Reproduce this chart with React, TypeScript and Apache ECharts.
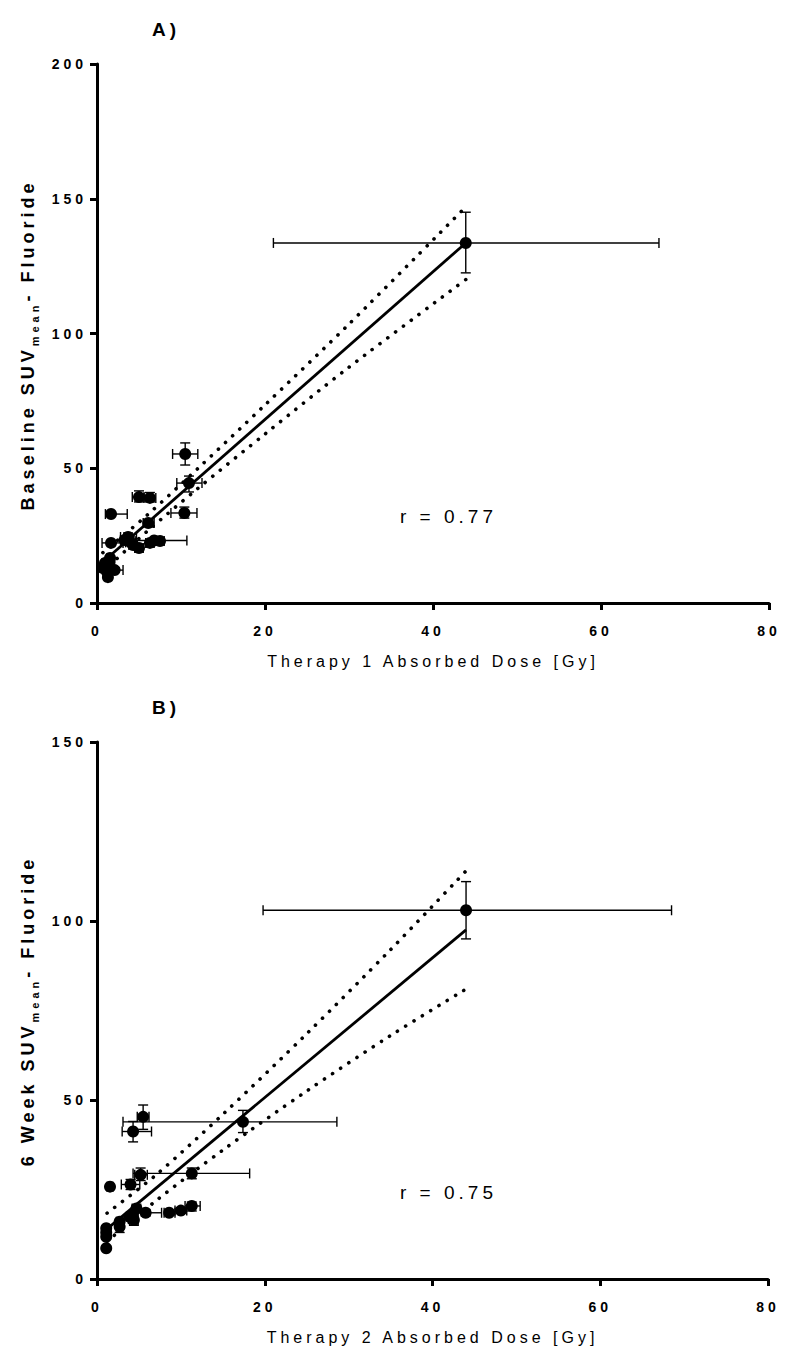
import React, { useEffect, useRef } from "react";
import * as echarts from "echarts";

// ---------- Panel A: Therapy 1 absorbed dose vs Baseline SUVmean ----------
const doseA = [43.9, 10.5, 10.95, 5.0, 6.3, 1.67, 10.4, 6.1, 1.67, 3.7, 3.3, 4.3, 5.0, 6.8, 7.5, 6.3, 1.55, 0.95, 0.7, 2.1, 1.3, 1.5, 1.2, 4.0];
const suvA = [133.6, 55.3, 44.5, 39.3, 39.0, 33.0, 33.4, 29.7, 22.3, 24.5, 23.4, 21.5, 20.4, 23.2, 23.0, 22.3, 16.7, 14.8, 13.0, 12.2, 9.6, 15.2, 11.5, 22.5];
const doseALo = [21.0, 9.0, 9.5, 4.2, 5.6, 1.0, 8.8, 5.5, 0.6, 2.8, 2.8, 3.8, 4.5, 3.5, 7.0, 5.8, 1.2, 0.6, 0.4, 1.0, 1.0, 1.2, 0.9, 3.4];
const doseAHi = [66.9, 12.0, 12.5, 5.6, 7.0, 3.6, 11.9, 6.8, 3.1, 4.7, 3.8, 4.8, 5.5, 10.7, 8.0, 6.8, 1.9, 1.3, 1.0, 3.1, 1.6, 1.8, 1.5, 4.6];
const suvALo = [122.5, 51.2, 41.2, 37.5, 37.5, 33.0, 31.5, 28.5, 22.3, 23.0, 22.4, 20.5, 19.0, 22.3, 22.0, 21.3, 16.0, 14.0, 12.3, 11.5, 9.0, 14.5, 11.0, 21.5];
const suvAHi = [145.0, 59.4, 47.1, 41.6, 41.0, 33.0, 35.6, 31.0, 22.3, 26.0, 24.4, 22.5, 21.8, 24.1, 24.0, 23.3, 17.4, 15.6, 13.7, 12.9, 10.2, 15.9, 12.0, 23.5];
const fitAX = [0.7, 43.9];
const fitAY = [15.2, 133.6];
const bandAX = [0.7, 6, 12, 20, 30, 43.9];
const bandAUpper = [18.7, 32.7, 49.9, 73.5, 103.5, 147];
const bandALower = [11.7, 26.7, 42.5, 62.7, 87.5, 120];

// ---------- Panel B: Therapy 2 absorbed dose vs 6 week SUVmean ----------
const doseB = [44.0, 17.4, 5.5, 4.3, 11.3, 5.2, 1.55, 4.0, 4.7, 5.8, 4.4, 2.7, 2.7, 8.6, 10.0, 11.3, 1.1, 1.1, 1.1, 3.9, 1.1];
const suvB = [103, 43.9, 45.3, 41.2, 29.5, 29.1, 25.8, 26.4, 19.7, 18.5, 16.5, 16.0, 14.6, 18.5, 19.1, 20.4, 14.2, 11.8, 8.6, 17.4, 13.0];
const doseBLo = [19.8, 3.1, 4.8, 3.0, 4.3, 4.5, 1.2, 2.9, 4.2, 4.7, 3.9, 2.3, 2.3, 8.0, 9.3, 10.5, 0.9, 0.9, 0.9, 3.5, 0.9];
const doseBHi = [68.5, 28.6, 6.2, 6.5, 18.2, 6.0, 1.9, 5.1, 5.2, 7.7, 4.9, 3.1, 3.1, 9.3, 10.7, 12.3, 1.3, 1.3, 1.3, 4.3, 1.3];
const suvBLo = [95, 40.9, 41.8, 38.3, 28.0, 27.5, 25.8, 25.0, 18.8, 17.6, 15.0, 15.3, 13.0, 17.8, 18.4, 19.0, 13.6, 11.2, 8.0, 16.8, 12.4];
const suvBHi = [111, 47.1, 48.6, 44.0, 31.0, 31.0, 25.8, 27.8, 20.6, 19.4, 18.0, 16.7, 16.0, 19.2, 19.8, 21.5, 14.8, 12.4, 9.2, 18.0, 13.6];
const fitBX = [1.1, 44.0];
const fitBY = [13.8, 97.5];
const bandBX = [1.2, 7, 15, 25, 35, 44];
const bandBUpper = [18.4, 29, 46, 68.5, 92, 114];
const bandBLower = [10.5, 21.8, 36, 52.5, 68, 81];

const xTicks = { min: 0, max: 80, interval: 20 };
const yTicksA = { min: 0, max: 200, interval: 50 };
const yTicksB = { min: 0, max: 150, interval: 50 };

const yTitleA = ["Baseline SUV", "mean", "- Fluoride"];
const yTitleB = ["6 Week SUV", "mean", "- Fluoride"];

const FONT_NAME = "Liberation Sans";
const FONT = "Liberation Sans, Arial, sans-serif";
const LS = 4; // letter spacing in px

function zip(...arrs: number[][]) {
  return arrs[0].map((_, i) => arrs.map((a) => a[i]));
}

let measureCtx: CanvasRenderingContext2D | null = null;
function textWidth(text: string, size: number, weight: string) {
  if (!measureCtx) measureCtx = document.createElement("canvas").getContext("2d");
  measureCtx!.font = `${weight} ${size}px "${FONT_NAME}"`;
  return measureCtx!.measureText(text).width + LS * text.length;
}

function rotatedTitle(parts: string[], cx: number, cy: number) {
  const mainSize = 18, subSize = 11;
  const w0 = textWidth(parts[0], mainSize, "bold");
  const w1 = textWidth(parts[1], subSize, "bold");
  const w2 = textWidth(parts[2], mainSize, "bold");
  const total = w0 + w1 + w2;
  const start = -total / 2;
  const mk = (t: string, x: number, y: number, size: number) => ({
    type: "text",
    x,
    y,
    style: { text: t, fontSize: size, fontWeight: "bold", fontFamily: FONT, fill: "#000", align: "left", verticalAlign: "middle" },
  });
  return {
    type: "group",
    x: cx,
    y: cy,
    rotation: Math.PI / 2,
    children: [
      mk(parts[0], start, 0, mainSize),
      mk(parts[1], start + w0, 7, subSize),
      mk(parts[2], start + w0 + w1, 0, mainSize),
    ],
  };
}

function errorRender(params: any, api: any) {
  const x = api.value(0), y = api.value(1);
  const xl = api.value(2), xh = api.value(3), yl = api.value(4), yh = api.value(5);
  const style = { stroke: "#000", lineWidth: 1.4, fill: "none" };
  const c = 5;
  const children: any[] = [];
  if (xh - xl > 0.05) {
    const pL = api.coord([xl, y]);
    const pR = api.coord([xh, y]);
    children.push({ type: "line", shape: { x1: pL[0], y1: pL[1], x2: pR[0], y2: pR[1] }, style });
    children.push({ type: "line", shape: { x1: pL[0], y1: pL[1] - c, x2: pL[0], y2: pL[1] + c }, style });
    children.push({ type: "line", shape: { x1: pR[0], y1: pR[1] - c, x2: pR[0], y2: pR[1] + c }, style });
  }
  if (yh - yl > 0.05) {
    const pB = api.coord([x, yl]);
    const pT = api.coord([x, yh]);
    children.push({ type: "line", shape: { x1: pB[0], y1: pB[1], x2: pT[0], y2: pT[1] }, style });
    children.push({ type: "line", shape: { x1: pB[0] - c, y1: pB[1], x2: pB[0] + c, y2: pB[1] }, style });
    children.push({ type: "line", shape: { x1: pT[0] - c, y1: pT[1], x2: pT[0] + c, y2: pT[1] }, style });
  }
  return { type: "group", children };
}

function xAxis(gridIndex: number, name: string) {
  return {
    type: "value",
    gridIndex,
    ...xTicks,
    name,
    nameLocation: "middle",
    nameGap: 50,
    nameTextStyle: { fontSize: 16, color: "#000", fontFamily: FONT },
    axisLine: { show: true, onZero: false, lineStyle: { color: "#000", width: 3 } },
    axisTick: { show: true, length: 7, lineStyle: { color: "#000", width: 3 } },
    axisLabel: { color: "#000", fontWeight: "bold", fontSize: 14, margin: 21, fontFamily: FONT },
    splitLine: { show: false },
  };
}

function yAxis(gridIndex: number, ticks: any) {
  return {
    type: "value",
    gridIndex,
    ...ticks,
    axisLine: { show: true, onZero: false, lineStyle: { color: "#000", width: 3 } },
    axisTick: { show: true, length: 7, lineStyle: { color: "#000", width: 3 } },
    axisLabel: { color: "#000", fontWeight: "bold", fontSize: 14, margin: 10, fontFamily: FONT },
    splitLine: { show: false },
  };
}

function panelSeries(
  idx: number,
  dose: number[], suv: number[], dLo: number[], dHi: number[], sLo: number[], sHi: number[],
  fx: number[], fy: number[], bx: number[], bu: number[], bl: number[]
) {
  const dotted = { color: "#000", width: 3.6, type: [0.1, 9.6], cap: "round" };
  return [
    { type: "line", xAxisIndex: idx, yAxisIndex: idx, data: zip(bx, bu), smooth: 0.3, symbol: "none", lineStyle: dotted, z: 2 },
    { type: "line", xAxisIndex: idx, yAxisIndex: idx, data: zip(bx, bl), smooth: 0.3, symbol: "none", lineStyle: dotted, z: 2 },
    { type: "line", xAxisIndex: idx, yAxisIndex: idx, data: zip(fx, fy), symbol: "none", lineStyle: { color: "#000", width: 2.8 }, z: 3 },
    {
      type: "custom",
      xAxisIndex: idx,
      yAxisIndex: idx,
      data: zip(dose, suv, dLo, dHi, sLo, sHi),
      encode: { x: 0, y: 1 },
      renderItem: errorRender,
      z: 4,
    },
    {
      type: "scatter",
      xAxisIndex: idx,
      yAxisIndex: idx,
      data: zip(dose, suv),
      symbol: "circle",
      symbolSize: 12,
      itemStyle: { color: "#000", opacity: 1 },
      z: 5,
    },
  ];
}

export default function App() {
  const ref = useRef<HTMLDivElement>(null);
  useEffect(() => {
    if (!ref.current) return;
    const chart = echarts.init(ref.current, null, { renderer: "svg" });
    chart.setOption({
      animation: false,
      backgroundColor: "#fff",
      textStyle: { fontFamily: FONT },
      grid: [
        { left: 97, right: 31, top: 64, height: 539 },
        { left: 97, right: 32, top: 742, height: 537 },
      ],
      xAxis: [xAxis(0, "Therapy 1 Absorbed Dose [Gy]"), xAxis(1, "Therapy 2 Absorbed Dose [Gy]")],
      yAxis: [yAxis(0, yTicksA), yAxis(1, yTicksB)],
      graphic: [
        rotatedTitle(yTitleA, 28, 345),
        rotatedTitle(yTitleB, 28, 1011),
        { type: "text", left: 152, top: 20, style: { text: "A)", fontSize: 19, fontWeight: "bold", fill: "#000", fontFamily: FONT } },
        { type: "text", left: 152, top: 698, style: { text: "B)", fontSize: 19, fontWeight: "bold", fill: "#000", fontFamily: FONT } },
        { type: "text", left: 400, top: 507, style: { text: "r = 0.77", fontSize: 19, fill: "#000", fontFamily: FONT } },
        { type: "text", left: 400, top: 1183, style: { text: "r = 0.75", fontSize: 19, fill: "#000", fontFamily: FONT } },
      ],
      series: [
        ...panelSeries(0, doseA, suvA, doseALo, doseAHi, suvALo, suvAHi, fitAX, fitAY, bandAX, bandAUpper, bandALower),
        ...panelSeries(1, doseB, suvB, doseBLo, doseBHi, suvBLo, suvBHi, fitBX, fitBY, bandBX, bandBUpper, bandBLower),
      ],
    });
    return () => chart.dispose();
  }, []);
  return (
    <div
      ref={ref}
      style={{ position: "absolute", left: 0, top: 0, width: 800, height: 1367, letterSpacing: `${LS}px` }}
    />
  );
}
